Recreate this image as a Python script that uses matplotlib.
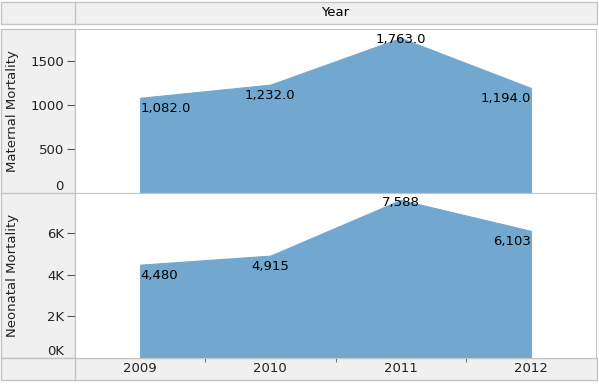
import matplotlib
matplotlib.use("Agg")
import matplotlib.pyplot as plt
import matplotlib.transforms as mtransforms
from matplotlib.patches import Rectangle
from matplotlib.ticker import FixedLocator

years = [2009, 2010, 2011, 2012]
maternal = [1082.0, 1232.0, 1763.0, 1194.0]
neonatal = [4480, 4915, 7588, 6103]
maternal_labels = ["1,082.0", "1,232.0", "1,763.0", "1,194.0"]
neonatal_labels = ["4,480", "4,915", "7,588", "6,103"]
maternal_ticks = [0, 500, 1000, 1500]
neonatal_ticks = [0, 2000, 4000, 6000]
neonatal_tick_labels = ["0K", "2K", "4K", "6K"]

W, H = 599, 384
fig = plt.figure(figsize=(W / 100, H / 100), dpi=100)
fig.patch.set_facecolor("white")
plt.rcParams['font.family'] = ['DejaVu Sans']

HDR = "#f0f0f0"
LINE = "#c4c4c4"
AREA = "#72a8d0"
FS = 9.5


def fx(px):
    return px / W


def fy(py):
    return 1 - py / H


def frect(x0, y0, x1, y1, **kw):
    fig.patches.append(Rectangle((fx(x0), fy(y1)), fx(x1) - fx(x0), fy(y0) - fy(y1),
                                 transform=fig.transFigure, figure=fig, zorder=-5, **kw))


def fline(x0, y0, x1, y1):
    fig.lines.append(plt.Line2D([fx(x0), fx(x1)], [fy(y0), fy(y1)], transform=fig.transFigure,
                                color=LINE, lw=1, zorder=-4))


# header backgrounds
frect(1, 2, 597, 24, facecolor=HDR, edgecolor=LINE, lw=1)
frect(1, 29, 75, 358, facecolor=HDR, edgecolor=LINE, lw=1)
frect(1, 358, 597, 380, facecolor=HDR, edgecolor=LINE, lw=1)
fline(75, 2, 75, 24)
fline(75, 358, 75, 380)
fline(1, 193, 75, 193)
fig.text(fx(335), fy(13), "Year", ha="center", va="center", fontsize=FS)

L, R = 75, 596
panels = [
    (29, 193, maternal, maternal_labels, 1864, "Maternal Mortality"),
    (193, 358, neonatal, neonatal_labels, 7920, "Neonatal Mortality"),
]

axes = []
for i, (t, b, vals, labs, ymax, name) in enumerate(panels):
    ax = fig.add_axes([fx(L), fy(b), fx(R) - fx(L), fy(t) - fy(b)])
    ax.fill_between(years, vals, 0, color=AREA, lw=0.8, edgecolor=AREA)
    ax.set_xlim(years[0] - 0.5, years[-1] + 0.5)
    ax.set_ylim(0, ymax)
    for s in ax.spines.values():
        s.set_color(LINE)
    ax.set_xticks([])
    if i == 0:
        ax.set_yticks(maternal_ticks)
        ax.set_yticklabels([str(v) for v in maternal_ticks])
    else:
        ax.set_yticks(neonatal_ticks)
        ax.set_yticklabels(neonatal_tick_labels)
    ax.tick_params(axis="y", direction="out", length=6, color="#555555", labelsize=FS,
                   pad=2, labelcolor="#222222")
    # first tick: label raised above the baseline, no tick mark
    ax.get_yticklabels()[0].set_verticalalignment("bottom")
    ax.yaxis.get_major_ticks()[0].tick1line.set_visible(False)
    fig.text(fx(13), fy((t + b) / 2), name, rotation=90, ha="center", va="center",
             fontsize=FS, color="#222222")

    has = ["left", "center", "center", "right"]
    for j, (x, v, lab) in enumerate(zip(years, vals, labs)):
        if j == 2:
            ax.annotate(lab, (x, v), xytext=(0, -1.5), textcoords="offset points",
                        ha="center", va="center", fontsize=FS, annotation_clip=False)
        else:
            ax.annotate(lab, (x, v), xytext=(0, -3), textcoords="offset points",
                        ha=has[j], va="top", fontsize=FS)
    axes.append(ax)

# x labels in bottom header row
bx = axes[1]
trans = mtransforms.blended_transform_factory(bx.transData, fig.transFigure)
for x in years:
    bx.text(x, fy(369), str(x), transform=trans, ha="center", va="center",
            fontsize=FS, clip_on=False, color="#222222")
bx.xaxis.set_minor_locator(FixedLocator([y + 0.5 for y in years[:-1]]))
bx.tick_params(axis="x", which="minor", direction="out", length=3, color="#555555")

fig.savefig("out.png", dpi=100, facecolor="white")
